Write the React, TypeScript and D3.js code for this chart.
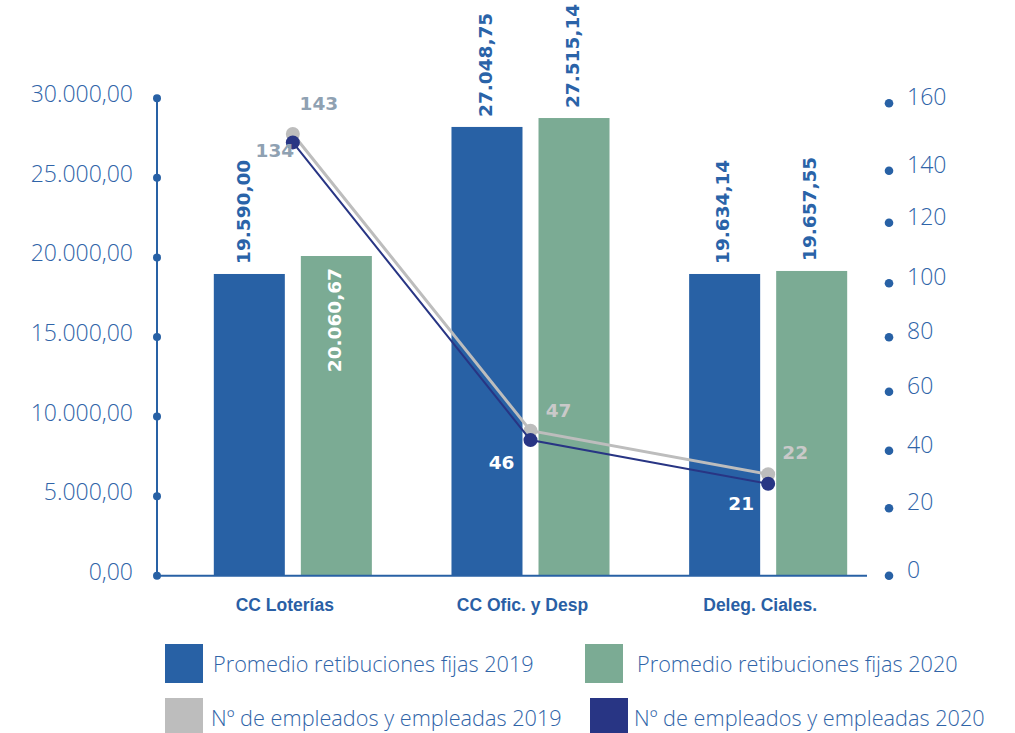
import React from "react";
import * as d3 from "d3";

const categories = ["CC Loterías", "CC Ofic. y Desp", "Deleg. Ciales."];
const barSeriesNames = ["Promedio retibuciones fijas 2019", "Promedio retibuciones fijas 2020"];
const bars2019 = [18960, 28200, 18960];
const bars2020 = [20090, 28760, 19150];
const barLabels2019 = ["19.590,00", "27.048,75", "19.634,14"];
const barLabels2020 = ["20.060,67", "27.515,14", "19.657,55"];
const lineSeriesNames = ["Nº de empleados y empleadas 2019", "Nº de empleados y empleadas 2020"];
const emp2019 = [150.9, 46.8, 31.8];
const emp2020 = [148.4, 43.6, 28.5];
const empLabels2019 = ["143", "47", "22"];
const empLabels2020 = ["134", "46", "21"];
const leftTicks = [0, 5000, 10000, 15000, 20000, 25000, 30000];
const leftTickLabels = ["0,00", "5.000,00", "10.000,00", "15.000,00", "20.000,00", "25.000,00", "30.000,00"];
const rightTicks = [0, 20, 40, 60, 80, 100, 120, 140, 160];

const BLUE = "#2861a5";
const GREEN = "#7bab94";
const GRAY = "#bdbdbd";
const NAVY = "#283584";
const TEXT = "#2f64a8";

export default function App() {
  const W = 1015, H = 733;
  const y0 = 575.7, yTop = 98.3;
  const yL = d3.scaleLinear().domain([0, 30000]).range([y0, yTop]);
  // right axis as drawn in the reference (its tick spacing is uneven)
  const yR = d3.scaleLinear()
    .domain(rightTicks)
    .range([575.7, 508.3, 450.7, 391.7, 337.3, 283.3, 222.7, 170.7, 103.3]);
  const x0 = d3.scaleBand<string>().domain(categories).range([174, 887]).paddingInner(0.335).paddingOuter(0.1675);
  const x1 = d3.scaleBand<string>().domain(["a", "b"]).range([0, x0.bandwidth()]).paddingInner(0.184);
  const cx = (c: string) => (x0(c) as number) + x0.bandwidth() / 2;

  const lineGen = (vals: number[]) =>
    d3.line<number>().x((_, i) => cx(categories[i])).y((v) => yR(v))(vals) as string;

  const valueFont = "'DejaVu Sans', sans-serif";
  const lightFont = "'Open Sans', sans-serif";

  const barGroups = [
    { key: "a", vals: bars2019, labels: barLabels2019, color: BLUE },
    { key: "b", vals: bars2020, labels: barLabels2020, color: GREEN },
  ];

  const lineStyles = [
    {
      vals: emp2019, labels: empLabels2019, color: GRAY, width: 3,
      offs: [[26, -31], [28, -20], [27, -22]],
      labelColors: ["#8fa1b2", "#c9c9c9", "#c9c9c9"],
    },
    {
      vals: emp2020, labels: empLabels2020, color: NAVY, width: 2,
      offs: [[-18, 8], [-29, 22], [-27, 20]],
      labelColors: ["#8fa1b2", "#ffffff", "#ffffff"],
    },
  ];

  const legendItems = [
    { name: barSeriesNames[0], color: BLUE, x: 165, y: 644, tx: 213 },
    { name: barSeriesNames[1], color: GREEN, x: 585, y: 644, tx: 637 },
    { name: lineSeriesNames[0], color: GRAY, x: 165, y: 698, tx: 211 },
    { name: lineSeriesNames[1], color: NAVY, x: 590, y: 698, tx: 634 },
  ];

  return (
    <svg width={W} height={H} style={{ position: "absolute", left: 0, top: 0, background: "#fff" }}>
      {/* bars */}
      {barGroups.map((g) =>
        categories.map((c, i) => {
          const x = (x0(c) as number) + (x1(g.key) as number);
          const y = yL(g.vals[i]);
          return (
            <rect key={g.key + i} x={x} y={y} width={x1.bandwidth()} height={y0 - y} fill={g.color} />
          );
        })
      )}
      {/* bar value labels */}
      {barGroups.map((g) =>
        categories.map((c, i) => {
          const x = (x0(c) as number) + (x1(g.key) as number) + x1.bandwidth() / 2;
          const y = yL(g.vals[i]);
          const inside = g.key === "b" && i === 0;
          return (
            <text
              key={"l" + g.key + i}
              transform={`translate(${x - (i === 0 && !inside ? 6 : 2)},${inside ? y + 12 : y - 10}) rotate(-90)`}
              dy="0.36em"
              textAnchor={inside ? "end" : "start"}
              fontFamily={valueFont}
              fontWeight={700}
              fontSize={18.5}
              fill={inside ? "#ffffff" : "#2a63a8"}
            >
              {g.labels[i]}
            </text>
          );
        })
      )}
      {/* axes */}
      <line x1={157} x2={157} y1={yTop} y2={y0} stroke={BLUE} strokeWidth={2} />
      <line x1={157} x2={867} y1={y0} y2={y0} stroke={BLUE} strokeWidth={2} />
      {leftTicks.map((t, i) => (
        <g key={"lt" + t}>
          <circle cx={157} cy={yL(t)} r={4} fill={BLUE} />
          <text x={133} y={yL(t) + 4} textAnchor="end" fontFamily={lightFont} fontWeight={300} fontSize={23} fill={TEXT}>
            {leftTickLabels[i]}
          </text>
        </g>
      ))}
      {rightTicks.map((t) => (
        <g key={"rt" + t}>
          <circle cx={889} cy={yR(t)} r={4.3} fill={BLUE} />
          <text x={907} y={yR(t) + 2} fontFamily={lightFont} fontWeight={300} fontSize={23} fill={TEXT}>
            {t}
          </text>
        </g>
      ))}
      {/* category labels */}
      {categories.map((c) => (
        <text key={c} x={cx(c) - 8} y={611} textAnchor="middle" fontFamily="'Liberation Sans', Arial, sans-serif" fontWeight={700} fontSize={17.5} fill="#2a5fa5">
          {c}
        </text>
      ))}
      {/* lines */}
      {lineStyles.map((s, k) => (
        <g key={"ln" + k}>
          <path d={lineGen(s.vals)} fill="none" stroke={s.color} strokeWidth={s.width} />
          {s.vals.map((v, i) => (
            <circle key={i} cx={cx(categories[i])} cy={yR(v)} r={7} fill={s.color} />
          ))}
        </g>
      ))}
      {lineStyles.map((s, k) =>
        s.vals.map((v, i) => (
          <text
            key={"el" + k + i}
            x={cx(categories[i]) + s.offs[i][0]}
            y={yR(v) + s.offs[i][1]}
            dy="0.36em"
            textAnchor="middle"
            fontFamily={valueFont}
            fontWeight={700}
            fontSize={18.5}
            fill={s.labelColors[i]}
          >
            {s.labels[i]}
          </text>
        ))
      )}
      {/* legend */}
      {legendItems.map((l) => (
        <g key={l.name}>
          <rect x={l.x} y={l.y} width={38} height={39} fill={l.color} />
          <text x={l.tx} y={l.y + 28} fontFamily={lightFont} fontWeight={300} fontSize={21.7} fill={TEXT}>
            {l.name}
          </text>
        </g>
      ))}
    </svg>
  );
}
